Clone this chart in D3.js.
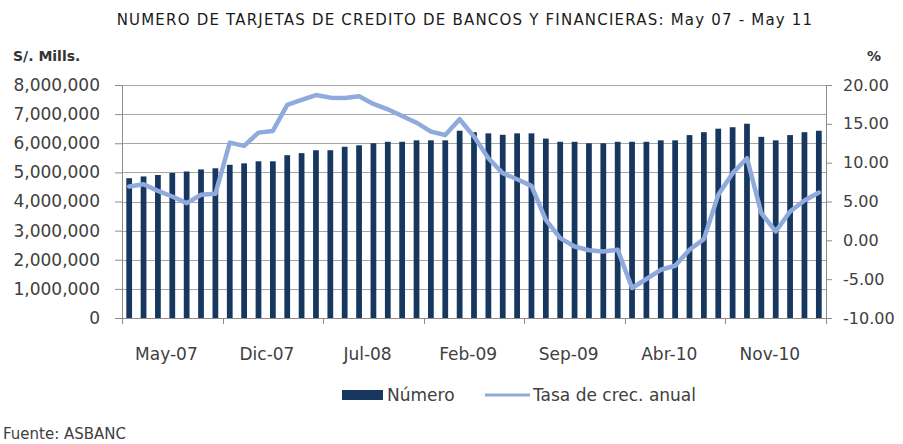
<!DOCTYPE html>
<html>
<head>
<meta charset="utf-8">
<script src="https://cdn.jsdelivr.net/npm/d3@7"></script>
<style>
  body { margin: 0; background: #fff; }
  text { font-family: "DejaVu Sans", sans-serif; fill: #404040; }
  .title { font-size: 15px; letter-spacing: 1.2px; fill: #1a1a1a; }
  .unit { font-size: 14px; font-weight: bold; fill: #333; }
</style>
</head>
<body>
<script>
const months = [
  "May-07", "Jun-07", "Jul-07", "Ago-07", "Sep-07", "Oct-07", "Nov-07", "Dic-07",
  "Ene-08", "Feb-08", "Mar-08", "Abr-08", "May-08", "Jun-08", "Jul-08", "Ago-08",
  "Sep-08", "Oct-08", "Nov-08", "Dic-08", "Ene-09", "Feb-09", "Mar-09", "Abr-09",
  "May-09", "Jun-09", "Jul-09", "Ago-09", "Sep-09", "Oct-09", "Nov-09", "Dic-09",
  "Ene-10", "Feb-10", "Mar-10", "Abr-10", "May-10", "Jun-10", "Jul-10", "Ago-10",
  "Sep-10", "Oct-10", "Nov-10", "Dic-10", "Ene-11", "Feb-11", "Mar-11", "Abr-11",
  "May-11"
];

// numero de tarjetas
const numero = [
  4800000, 4860000, 4910000, 4980000, 5030000, 5100000, 5140000, 5260000, 5310000, 5380000,
  5380000, 5590000, 5660000, 5760000, 5760000, 5880000, 5930000, 6000000, 6050000, 6050000,
  6100000, 6100000, 6100000, 6430000, 6380000, 6340000, 6290000, 6340000, 6340000, 6160000,
  6050000, 6050000, 6000000, 6000000, 6050000, 6050000, 6050000, 6100000, 6100000, 6280000,
  6380000, 6500000, 6550000, 6670000, 6220000, 6100000, 6280000, 6380000, 6430000
];

// tasa de crecimiento anual (%)
const tasa = [
  6.93, 7.23, 6.37, 5.64, 4.79, 5.86, 5.99, 12.58, 12.16, 13.87,
  14.09, 17.43, 18.07, 18.71, 18.37, 18.33, 18.55, 17.56, 16.87, 16.01,
  15.15, 14.0, 13.57, 15.59, 13.36, 10.57, 8.65, 7.87, 7.01, 2.64,
  0.29, -0.79, -1.28, -1.43, -1.21, -6.14, -4.98, -3.79, -3.27, -1.21,
  0.16, 5.86, 8.65, 10.57, 3.5, 1.14, 3.71, 5.12, 6.15
];

const leftTicks = [0, 1000000, 2000000, 3000000, 4000000, 5000000, 6000000, 7000000, 8000000];
const rightTicks = [-10, -5, 0, 5, 10, 15, 20];
const labelEvery = 7;

const w = 903;
const h = 444;
const barColor = "#17375e";
const lineColor = "#8faadc";
const gridColor = "#a6a6a6";
const axisColor = "#8c8c8c";

const m = { t: 85, r: 77, b: 126, l: 122 };
const gw = w - m.l - m.r;
const gh = h - m.t - m.b;

const svg = d3.select("body").append("svg").attr("width", w).attr("height", h);

const x = d3.scaleBand().domain(months).range([0, gw]).paddingInner(0.6).paddingOuter(0.3);
const y = d3.scaleLinear().domain([0, 8000000]).range([gh, 0]);
const y2 = d3.scaleLinear().domain([-10, 20]).range([gh, 0]);
const step = x.step();

const g = svg.append("g").attr("transform", `translate(${m.l}, ${m.t})`);

// gridlines
g.append("g")
  .selectAll("line")
  .data(leftTicks)
  .enter()
  .append("line")
  .attr("x1", 0)
  .attr("x2", gw)
  .attr("y1", (d) => Math.round(y(d)) + 0.5)
  .attr("y2", (d) => Math.round(y(d)) + 0.5)
  .attr("stroke", gridColor)
  .attr("stroke-width", 1);

// bars
g.append("g")
  .selectAll("rect")
  .data(numero)
  .enter()
  .append("rect")
  .attr("x", (d, i) => x(months[i]))
  .attr("width", x.bandwidth())
  .attr("y", (d) => y(d))
  .attr("height", (d) => gh - y(d))
  .attr("fill", barColor);

// left axis
const yAxis = d3
  .axisLeft(y)
  .tickValues(leftTicks)
  .tickSize(7)
  .tickPadding(15)
  .tickFormat(d3.format(","));
const ya = g.append("g").call(yAxis);
ya.select(".domain").attr("stroke", axisColor);
ya.selectAll("line").attr("stroke", axisColor);
ya.selectAll("text").attr("font-family", null).style("font-size", "17px").attr("fill", "#404040");

// right axis
const y2Axis = d3
  .axisRight(y2)
  .tickValues(rightTicks)
  .tickSize(6)
  .tickPadding(11)
  .tickFormat((d) => d3.format(".2f")(d).replace("\u2212", "-"));
const yb = g.append("g").attr("transform", `translate(${gw}, 0)`).call(y2Axis);
yb.select(".domain").attr("stroke", axisColor);
yb.selectAll("line").attr("stroke", axisColor);
yb.selectAll("text").attr("font-family", null).style("font-size", "16px").attr("fill", "#404040");

// bottom axis
const bottomTicks = months.filter((d, i) => i % labelEvery === 0);
const xa = g.append("g").attr("transform", `translate(0, ${gh})`);
xa.append("line")
  .attr("x1", 0)
  .attr("x2", gw)
  .attr("y1", 0.5)
  .attr("y2", 0.5)
  .attr("stroke", axisColor);
xa.selectAll(".xt")
  .data(bottomTicks.concat(["end"]))
  .enter()
  .append("line")
  .attr("class", "xt")
  .attr("x1", (d, i) => Math.round(i * labelEvery * step) + 0.5)
  .attr("x2", (d, i) => Math.round(i * labelEvery * step) + 0.5)
  .attr("y1", 0)
  .attr("y2", 6)
  .attr("stroke", axisColor);
xa.selectAll("text")
  .data(bottomTicks)
  .enter()
  .append("text")
  .attr("x", (d, i) => x(months[i * labelEvery + 3]) - 3)
  .attr("y", 42)
  .attr("text-anchor", "middle")
  .style("font-size", "17px")
  .text((d) => d);

// line
const line = d3
  .line()
  .x((d, i) => x(months[i]) + x.bandwidth() / 2)
  .y((d) => y2(d));
g.append("path")
  .datum(tasa)
  .attr("d", line)
  .attr("fill", "none")
  .attr("stroke", lineColor)
  .attr("stroke-width", 4.5)
  .attr("stroke-linejoin", "round")
  .attr("stroke-linecap", "round");

// title
svg
  .append("text")
  .attr("class", "title")
  .attr("x", 465)
  .attr("y", 25)
  .attr("text-anchor", "middle")
  .text("NUMERO DE TARJETAS DE CREDITO DE BANCOS Y FINANCIERAS: May 07 - May 11");

svg.append("text").attr("class", "unit").attr("x", 13).attr("y", 61).text("S/. Mills.");
svg.append("text").attr("class", "unit").attr("x", 874).attr("y", 61).attr("text-anchor", "middle").text("%");

// legend
const legend = svg.append("g").attr("transform", "translate(342, 395)");
legend.append("rect").attr("x", 0).attr("y", -5).attr("width", 41).attr("height", 10).attr("fill", barColor);
legend.append("text").attr("x", 45).attr("y", 6).style("font-size", "17px").text("Número");
legend
  .append("line")
  .attr("x1", 143)
  .attr("x2", 188)
  .attr("y1", 0)
  .attr("y2", 0)
  .attr("stroke", lineColor)
  .attr("stroke-width", 3);
legend.append("text").attr("x", 191).attr("y", 6).style("font-size", "17px").text("Tasa de crec. anual");

// footnote
svg.append("text").attr("x", 3).attr("y", 439).style("font-size", "15px").text("Fuente: ASBANC");
</script>
</body>
</html>
